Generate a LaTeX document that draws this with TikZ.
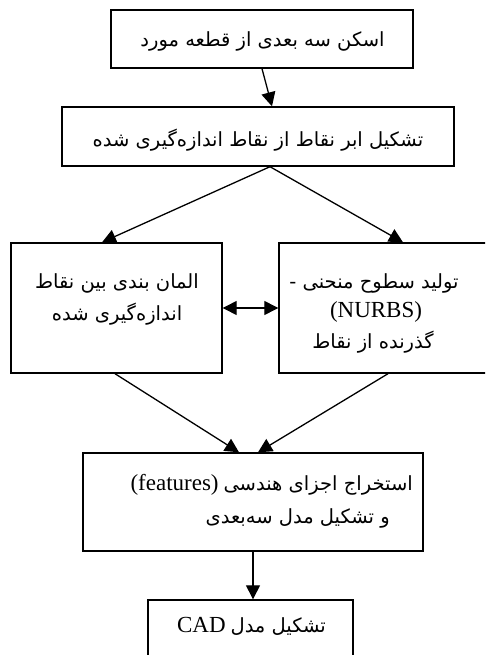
\documentclass[tikz,border=0pt]{standalone}
\usepackage{fontspec}
\setmainfont{Liberation Serif}
\newfontfamily\fa[Script=Arabic]{DejaVu Sans}
\TeXXeTstate=1
\usetikzlibrary{arrows.meta,calc}
\newcommand\fatxt[1]{{\fa\beginR #1\endR}}
\begin{document}
\begin{tikzpicture}[x=1pt,y=-1pt,
  box/.style={draw, line width=1.4pt, inner sep=0pt},
  txt/.style={inner sep=0pt, anchor=base, font=\fontsize{19.5}{22}\selectfont},
  tip/.tip={Triangle[length=14pt,width=14pt]},
  arr/.style={line width=1.3pt, -tip}]
\useasboundingbox (0,0) rectangle (485,655);
\clip (0,0) rectangle (485,655);
% boxes
\node[box, minimum width=302pt, minimum height=58pt] (b1) at (262,39) {};
\node[box, minimum width=392pt, minimum height=59pt] (b2) at (258,136.5) {};
\node[box, minimum width=211pt, minimum height=130pt] (b3) at (116.5,308) {};
\node[box, minimum width=213pt, minimum height=130pt] (b4) at (385.5,308) {};
\node[box, minimum width=340pt, minimum height=98pt] (b5) at (253,502) {};
\node[box, minimum width=205pt, minimum height=75pt] (b6) at (250.5,637.5) {};
% texts
\node[txt] (t1) at (262.5,47) {\fatxt{اسکن سه بعدی از قطعه مورد}};
\node[txt] (t2) at (258,147) {\fatxt{تشکیل ابر نقاط از نقاط اندازه‌گیری شده}};
\node[txt] (t3a) at (117,288) {\fatxt{المان بندی بین نقاط}};
\node[txt] (t3b) at (117,320) {\fatxt{اندازه‌گیری شده}};
\node[txt] (t4a) at (374,288) {\fatxt{تولید سطوح منحنی -}};
\node[txt, font=\fontsize{23}{25}\selectfont] (t4b) at (376,317) {(NURBS)};
\node[txt] (t4c) at (373,348) {\fatxt{گذرنده از نقاط}};
\node[txt, anchor=base east] (t5a) at (413,490) {{\fontsize{23}{25}\selectfont (features)} \fatxt{استخراج اجزای هندسی}};
\node[txt, anchor=base east] (t5b) at (390,523) {\fatxt{و تشکیل مدل سه‌بعدی}};
\node[txt] (t6) at (251.5,632) {{\fontsize{23}{25}\selectfont CAD} \fatxt{تشکیل مدل}};
% connectors
\draw[arr] (b1.south) -- ($(b2.north)+(14,0)$);
\coordinate (s2) at ($(b2.south)+(12,0)$);
\draw[arr] (s2) -- ($(b3.north)+(-14.5,0)$);
\draw[arr] (s2) -- ($(b4.north)+(17.5,0)$);
\draw[line width=1.3pt, tip-tip] (b3.east) -- (b4.west);
\draw[arr] ($(b3.south)+(-1.5,0)$) -- ($(b5.north)+(-14,0)$);
\draw[arr] ($(b4.south)+(2.5,0)$) -- ($(b5.north)+(5,0)$);
\draw[arr] (b5.south) -- (b5.south |- b6.north);
\end{tikzpicture}
\end{document}
